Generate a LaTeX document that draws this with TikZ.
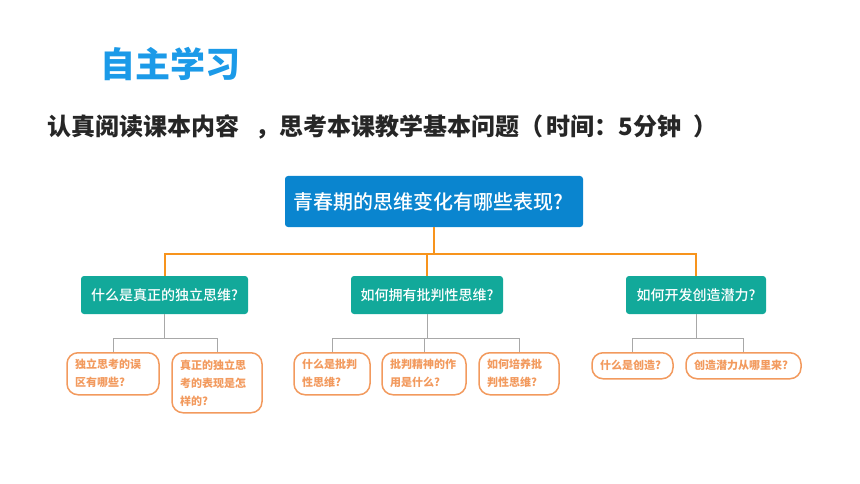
\documentclass[tikz,border=0pt]{standalone}
\usepackage{fontspec}
\setmainfont{Noto Sans CJK SC}
\newfontfamily\medfont{Noto Sans CJK SC Medium}
\usepackage{tikz}
\usetikzlibrary{calc, positioning}
\definecolor{titleblue}{HTML}{1B9AE8}
\definecolor{rootblue}{HTML}{0A85CF}
\definecolor{branchgreen}{HTML}{12A99A}
\definecolor{trunkorange}{HTML}{F7941D}
\definecolor{leaforange}{HTML}{F29A5E}
\definecolor{twiggrey}{HTML}{A8A8A8}
\tikzset{
    root/.style ={rectangle, rounded corners=3pt, fill=rootblue, text=white,
                  minimum height=51pt, inner xsep=8pt, text width=282pt, align=left,
                  font=\fontsize{20}{24}\medfont},
    branch/.style ={rectangle, rounded corners=3pt, fill=branchgreen, text=white,
                  minimum height=38pt, inner xsep=0pt, font=\fontsize{14}{17}\medfont},
    leaf/.style ={rectangle, rounded corners=11pt, draw=leaforange, line width=1.5pt,
                  text=leaforange, anchor=north, inner xsep=8pt, align=left,
                  font=\fontsize{11}{18}\selectfont\bfseries},
    trunk/.style = {draw=trunkorange, line width=2pt},
    twig/.style = {draw=twiggrey, line width=1pt}
    }

\begin{document}
\begin{tikzpicture}[
      x = 1pt, y = -1pt, % pixel grid, y down
      semithick
    ]
    \useasboundingbox (0,0) rectangle (860,484);

    \node[text=titleblue, font=\fontsize{35}{40}\selectfont\bfseries] (t) at (170,64) {自主学习};
    \node[anchor=west, text=black!85, font=\fontsize{24}{28}\selectfont\bfseries] (s) at (44,127)
        {认真阅读课本内容\hspace{16pt}，思考本课教学基本问题（\hspace{3pt}时间：5分钟\hspace{12pt}）};

    \node[root] (1) at (434,201.5) {青春期的思维变化有哪些表现?};

    \node[branch, minimum width=167pt] (2) at (164.5,295) {什么是真正的独立思维?};
    \node[branch, minimum width=152pt] (3) at (427,295) {如何拥有批判性思维?};
    \node[branch, minimum width=140pt] (4) at (696,295) {如何开发创造潜力?};

    \node[leaf, text width=76pt, minimum height=42pt] (5) at (113,352) {独立思考的误\\区有哪些?};
    \node[leaf, text width=74pt, minimum height=60pt] (6) at (217,352) {真正的独立思\\考的表现是怎\\样的?};

    \node[leaf, text width=60pt, minimum height=42pt] (7) at (332,352) {什么是批判\\性思维?};
    \node[leaf, text width=68pt, minimum height=42pt] (8) at (424,352) {批判精神的作\\用是什么?};
    \node[leaf, text width=64pt, minimum height=42pt] (9) at (519,352) {如何培养批\\判性思维?};

    \node[leaf, text width=65pt, minimum height=26pt] (10) at (632.5,352) {什么是创造?};
    \node[leaf, text width=99pt, minimum height=26pt] (11) at (743.5,352) {创造潜力从哪里来?};

    \coordinate (bus) at (0,254);
    \coordinate (fork) at (0,338);

    \draw[trunk] (1.south) -- (1.south |- bus) -| (2.north);
    \draw[trunk] (1.south) -- (1.south |- bus) -| (3.north);
    \draw[trunk] (1.south) -- (1.south |- bus) -| (4.north);

    \draw[twig] (2.south) -- (2.south |- fork) -| (5.north);
    \draw[twig] (2.south) -- (2.south |- fork) -| (6.north);

    \draw[twig] (3.south) -- (3.south |- fork) -| (7.north);
    \draw[twig] (3.south) -- (3.south |- fork) -| (8.north);
    \draw[twig] (3.south) -- (3.south |- fork) -| (9.north);

    \draw[twig] (4.south) -- (4.south |- fork) -| (10.north);
    \draw[twig] (4.south) -- (4.south |- fork) -| (11.north);
\end{tikzpicture}
\end{document}
